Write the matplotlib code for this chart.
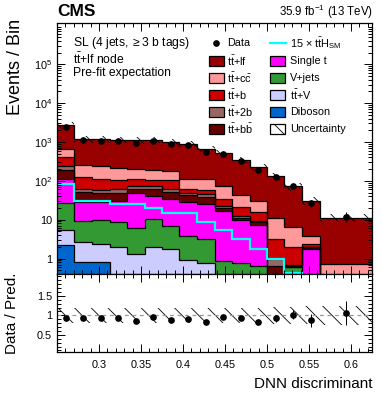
import numpy as np
import matplotlib
matplotlib.use('Agg')
import matplotlib.pyplot as plt
from matplotlib.patches import Rectangle
from matplotlib.lines import Line2D
from matplotlib.ticker import MultipleLocator, FixedLocator, FuncFormatter, LogLocator, NullFormatter

plt.rcParams['font.family'] = ['Liberation Sans', 'DejaVu Sans']
plt.rcParams['mathtext.fontset'] = 'custom'
plt.rcParams['mathtext.rm'] = 'Liberation Sans'
plt.rcParams['mathtext.it'] = 'Liberation Sans:italic'
plt.rcParams['mathtext.bf'] = 'Liberation Sans:bold'
plt.rcParams['hatch.linewidth'] = 0.6

# ---------------- data ----------------
bin_edges = [0.25, 0.27083, 0.29167, 0.3125, 0.33333, 0.35417, 0.375, 0.39583,
             0.41667, 0.4375, 0.45833, 0.47917, 0.5, 0.52083, 0.54167, 0.5625, 0.625]

diboson = [2.2, 0.8, 0.8, 0.3, 0.3, 0.3, 0.2, 0.2, 0.2, 0.1, 0.1, 0.1, 0.1, 0.1, 0.1, 0.05]
ttv     = [3.1, 1.8, 1.6, 1.7, 1.0, 1.7, 1.6, 0.7, 0.55, 0.2, 0.2, 0.2, 0.1, 0.1, 0.1, 0.05]
vjets   = [21.3, 6.9, 7.6, 6.5, 4.7, 8.5, 5.0, 3.0, 2.45, 0.55, 0.45, 0.35, 0.1, 0.4, 0.1, 0.05]
singlet = [86.4, 18.5, 19.0, 21.5, 42.0, 29.5, 28.2, 24.1, 21.8, 16.2, 9.25, 6.45, 0.05, 0.0, 1.48, 0.05]
ttbb    = [72, 23, 19, 20, 14, 20, 17, 14, 13, 3.5, 1.0, 1.4, 0.31, 0.05, 0.12, 0.05]
tt2b    = [50, 12, 10, 10, 13, 12, 10, 8, 7, 1.5, 1.8, 1.0, 0.32, 0.05, 0.05, 0.05]
ttb     = [173, 62, 55, 42, 38, 30, 40, 13, 14, 12.6, 8.2, 6.1, 2.22, 1.25, 0.45, 0.05]
ttcc    = [268, 125, 122, 114, 91, 88, 73, 50, 51, 37.4, 23, 14.4, 7.7, 4.45, 1.5, 0.38]
ttlf    = [2004, 967, 932, 930, 895, 956, 819, 791, 562, 445, 306, 195, 124, 65.6, 27.1, 10.5]

tth_x15 = [84, 30, 30, 25.6, 25.6, 19.8, 14.7, 14.7, 8.6, 5.5, 3.2, 1.78, 1.0, 0.42, 0.1, 0.1]
data    = [2479, 1126, 1079, 1060, 953, 1089, 878, 829, 560, 491, 324, 187, 124, 73, 27, 12]
rel_unc = [0.19, 0.19, 0.19, 0.19, 0.19, 0.19, 0.19, 0.19, 0.2, 0.2, 0.2, 0.2, 0.21, 0.22, 0.23, 0.24]

processes = [
    ('Diboson', diboson, '#0066cc'),
    (r'$\mathrm{t\bar{t}}$+V', ttv, '#ccccff'),
    ('V+jets', vjets, '#339933'),
    ('Single t', singlet, '#ff00ff'),
    (r'$\mathrm{t\bar{t}}$+$\mathrm{b\bar{b}}$', ttbb, '#660000'),
    (r'$\mathrm{t\bar{t}}$+2b', tt2b, '#996666'),
    (r'$\mathrm{t\bar{t}}$+b', ttb, '#cc0000'),
    (r'$\mathrm{t\bar{t}}$+$\mathrm{c\bar{c}}$', ttcc, '#ff9999'),
    (r'$\mathrm{t\bar{t}}$+lf', ttlf, '#990000'),
]

# ---------------- figure ----------------
W, H = 382, 394
fig = plt.figure(figsize=(W / 100, H / 100), dpi=100)

def fx(px):
    return px / W

def fy(py):
    return 1 - py / H

ax = fig.add_axes([fx(57), fy(274), fx(372) - fx(57), fy(23) - fy(274)])
axr = fig.add_axes([fx(57), fy(352), fx(372) - fx(57), fy(274) - fy(352)], sharex=ax)

edges = np.array(bin_edges)
centers = 0.5 * (edges[:-1] + edges[1:])
bottom = np.full(len(centers), 1e-3)
for name, vals, col in processes:
    top = bottom + np.array(vals)
    ax.stairs(top, edges, baseline=bottom, fill=True, facecolor=col, edgecolor='none', lw=0)
    bottom = top
total = bottom.copy()
bottom = np.full(len(centers), 1e-3)
for name, vals, col in processes:
    top = bottom + np.array(vals)
    ax.stairs(top, edges, baseline=None, color='black', lw=0.9)
    bottom = top

unc = np.array(rel_unc)
ax.stairs(total * (1 + unc), edges, baseline=total * (1 - unc), fill=True,
          facecolor='none', edgecolor='black', lw=0, hatch='\\\\')

ax.stairs(np.array(tth_x15), edges, baseline=None, color='#00ffff', lw=1.6)

d = np.array(data, dtype=float)
ax.errorbar(centers, d, yerr=np.sqrt(d), fmt='o', color='black', ms=3.8, lw=0.7, capsize=0)

ax.set_yscale('log')
ax.set_ylim(0.4, 1.15e6)
ax.set_xlim(0.25, 0.625)

def yfmt(v, pos):
    n = int(round(np.log10(v)))
    if n == 0:
        return '1'
    if n == 1:
        return '10'
    return r'$10^{%d}$' % n

ax.yaxis.set_major_locator(FixedLocator([1, 10, 100, 1e3, 1e4, 1e5]))
ax.yaxis.set_minor_locator(LogLocator(base=10, subs=np.arange(2, 10), numticks=20))
ax.yaxis.set_major_formatter(FuncFormatter(yfmt))
ax.yaxis.set_minor_formatter(NullFormatter())

for a in (ax, axr):
    a.xaxis.set_major_locator(FixedLocator([0.3, 0.35, 0.4, 0.45, 0.5, 0.55, 0.6]))
    a.xaxis.set_minor_locator(MultipleLocator(0.01))
    a.tick_params(which='both', direction='in', top=True, right=True, labelsize=7.8, width=0.7)
    a.tick_params(which='major', length=6)
    a.tick_params(which='minor', length=3)
    for s in a.spines.values():
        s.set_linewidth(0.9)
ax.tick_params(labelbottom=False)
axr.tick_params(axis='x', pad=6)

# ratio panel
ratio = d / total
rerr = np.sqrt(d) / total
axr.stairs(1 + unc, edges, baseline=1 - unc, fill=True, facecolor='none',
           edgecolor='black', lw=0, hatch='\\\\')
axr.axhline(1.0, color='#999999', lw=0.9, ls=(0, (3, 3)))
axr.errorbar(centers, ratio, yerr=rerr, fmt='o', color='black', ms=3.8, lw=0.7, capsize=0)
axr.set_ylim(0.06, 2.06)
axr.yaxis.set_major_locator(FixedLocator([0.5, 1.0, 1.5]))
axr.yaxis.set_minor_locator(MultipleLocator(0.1))
axr.yaxis.set_major_formatter(FuncFormatter(lambda v, p: '%g' % v))
axr.xaxis.set_major_formatter(FuncFormatter(lambda v, p: '%g' % round(v, 2)))

# labels
fig.text(fx(16), fy(19), 'Events / Bin', rotation=90, ha='center', va='top', fontsize=13)
fig.text(fx(12), fy(313), 'Data / Pred.', rotation=90, ha='center', va='center', fontsize=11)
fig.text(fx(372), fy(384), 'DNN discriminant', ha='right', va='center', fontsize=11)
fig.text(fx(57), fy(11), 'CMS', ha='left', va='center', fontsize=12.5, fontweight='bold')
fig.text(fx(373), fy(12), r'35.9 fb$^{-1}$ (13 TeV)', ha='right', va='center', fontsize=8.3)

fig.text(fx(73), fy(43), r'SL (4 jets, $\geq$3 b tags)', ha='left', va='center', fontsize=8.7)
fig.text(fx(73), fy(59), r'$\mathrm{t\bar{t}}$+lf node', ha='left', va='center', fontsize=8.7)
fig.text(fx(73), fy(73), 'Pre-fit expectation', ha='left', va='center', fontsize=8.7)

# legend (manual, two columns)
rows = [43, 61, 78, 95, 112, 129]
col1_box, col1_txt = 209, 227
col2_box, col2_txt = 270, 290
bw, bh = 15, 10
leg_fs = 7.8

def box(xpx, ypx, fc, hatch=None):
    r = Rectangle((fx(xpx), fy(ypx + bh / 2)), fx(bw), bh / H, transform=fig.transFigure,
                  facecolor=fc, edgecolor='black', lw=0.9, hatch=hatch)
    fig.add_artist(r)

fig.add_artist(Line2D([fx(216)], [fy(rows[0])], marker='o', color='black', ms=3.8,
                      transform=fig.transFigure))
fig.text(fx(col1_txt), fy(rows[0]), 'Data', ha='left', va='center', fontsize=leg_fs)
fig.add_artist(Line2D([fx(col2_box), fx(col2_box + 16)], [fy(rows[0]), fy(rows[0])],
                      color='#00ffff', lw=1.6, transform=fig.transFigure))
fig.text(fx(col2_txt), fy(rows[0]), r'15 $\times$ $\mathrm{t\bar{t}H_{SM}}$', ha='left',
         va='center', fontsize=leg_fs)

col1 = [processes[8], processes[7], processes[6], processes[5], processes[4]]
col2 = [processes[3], processes[2], processes[1], processes[0]]
for i, (name, vals, col) in enumerate(col1):
    box(col1_box, rows[i + 1], col)
    fig.text(fx(col1_txt), fy(rows[i + 1]), name, ha='left', va='center', fontsize=leg_fs)
for i, (name, vals, col) in enumerate(col2):
    box(col2_box, rows[i + 1], col)
    fig.text(fx(col2_txt), fy(rows[i + 1]), name, ha='left', va='center', fontsize=leg_fs)
box(col2_box, rows[5], 'white', hatch='\\\\')
fig.text(fx(col2_txt), fy(rows[5]), 'Uncertainty', ha='left', va='center', fontsize=leg_fs)

fig.savefig('out.png', dpi=100)
